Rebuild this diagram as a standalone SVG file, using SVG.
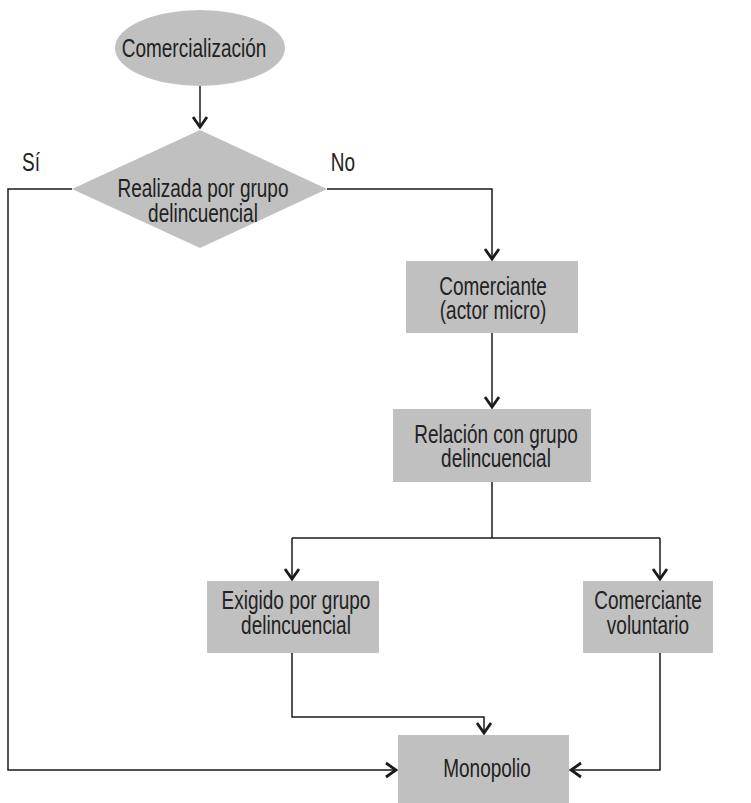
<svg xmlns="http://www.w3.org/2000/svg" width="751" height="803" viewBox="0 0 751 803">
<style>
.shape{fill:#c0c0c0;stroke:none}
.t{font-family:"Liberation Sans",Arial,sans-serif;font-size:20px;fill:#222222;text-anchor:middle}
.c{fill:none;stroke:#1a1a1a;stroke-width:1.5}
</style>
<defs>
<marker id="ah" markerUnits="userSpaceOnUse" viewBox="-12 -9 14 18" refX="0" refY="0" markerWidth="14" markerHeight="18" orient="auto">
<path d="M-10,-7 L0,0 L-10,7" fill="none" stroke="#1a1a1a" stroke-width="2.8"/>
</marker>
</defs>
<rect width="751" height="803" fill="#ffffff"/>
<g id="connectors">
<path class="c" d="M200,86 V127" marker-end="url(#ah)"/>
<path class="c" d="M72,189 H8 V770 H396" marker-end="url(#ah)"/>
<path class="c" d="M327,189 H492 V259" marker-end="url(#ah)"/>
<path class="c" d="M492,333 V407" marker-end="url(#ah)"/>
<path class="c" d="M492,482 V538"/>
<path class="c" d="M292,538 H660"/>
<path class="c" d="M292,538 V579" marker-end="url(#ah)"/>
<path class="c" d="M660,538 V579" marker-end="url(#ah)"/>
<path class="c" d="M292,653 V717 H484 V733" marker-end="url(#ah)"/>
<path class="c" d="M660,653 V770 H571" marker-end="url(#ah)"/>
</g>
<g id="label-si"><text class="t" transform="translate(31,171) scale(0.95,1.27)">Sí</text></g>
<g id="label-no"><text class="t" transform="translate(343,171) scale(0.95,1.27)">No</text></g>
<g id="comercializacion">
<ellipse class="shape" cx="200" cy="48" rx="85" ry="38"/>
<text class="t" transform="translate(194,57) scale(0.95,1.27)">Comercialización</text>
</g>
<g id="realizada">
<polygon class="shape" points="200,130 327,189 200,248 72,189"/>
<text class="t" transform="translate(203,197) scale(0.95,1.27)">Realizada por grupo</text>
<text class="t" transform="translate(203,222) scale(0.95,1.27)">delincuencial</text>
</g>
<g id="comerciante">
<rect class="shape" x="406" y="261" width="172" height="72"/>
<text class="t" transform="translate(493,295) scale(0.95,1.27)">Comerciante</text>
<text class="t" transform="translate(493,319) scale(0.95,1.27)">(actor micro)</text>
</g>
<g id="relacion">
<rect class="shape" x="393" y="409" width="198" height="73"/>
<text class="t" transform="translate(496,443) scale(0.95,1.27)">Relación con grupo</text>
<text class="t" transform="translate(496,467) scale(0.95,1.27)">delincuencial</text>
</g>
<g id="exigido">
<rect class="shape" x="207" y="581" width="172" height="72"/>
<text class="t" transform="translate(296,609) scale(0.95,1.27)">Exigido por grupo</text>
<text class="t" transform="translate(296,634) scale(0.95,1.27)">delincuencial</text>
</g>
<g id="voluntario">
<rect class="shape" x="583" y="581" width="130" height="72"/>
<text class="t" transform="translate(648,609) scale(0.95,1.27)">Comerciante</text>
<text class="t" transform="translate(648,634) scale(0.95,1.27)">voluntario</text>
</g>
<g id="monopolio">
<rect class="shape" x="398" y="735" width="171" height="68"/>
<text class="t" transform="translate(487,777) scale(0.95,1.27)">Monopolio</text>
</g>
</svg>
